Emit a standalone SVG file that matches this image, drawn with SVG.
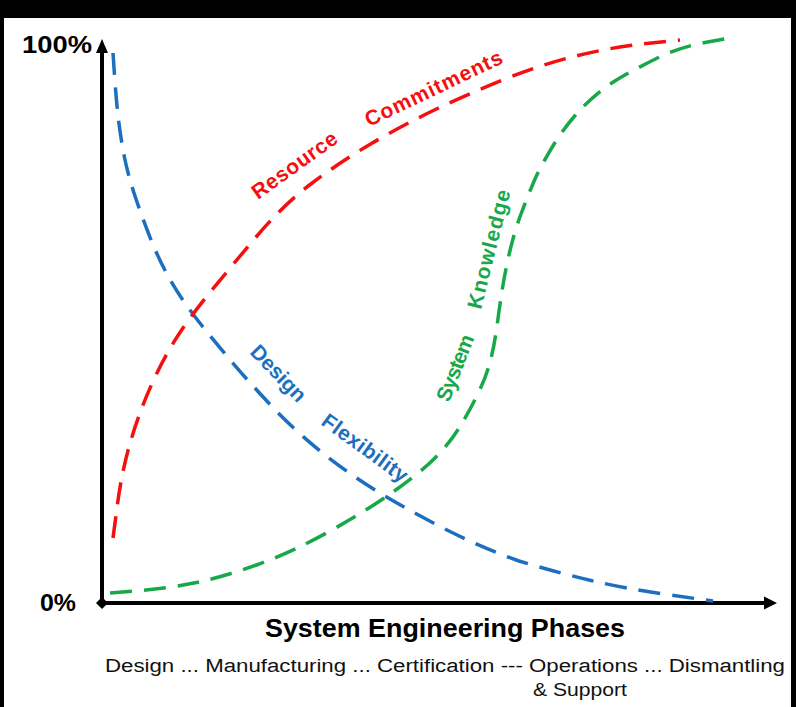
<svg xmlns="http://www.w3.org/2000/svg" width="796" height="707" viewBox="0 0 796 707">
<style>
.ax{stroke:#000;stroke-width:4;fill:none}
.crv{fill:none;stroke-width:3.5;stroke-dasharray:22 12}
.blue{stroke:#1C6FBF}
.red{stroke:#F50F0F}
.green{stroke:#18A84A}
.lbl{font-family:"Liberation Sans",Arial,sans-serif;font-weight:bold;font-size:21px}
.ttl{font-family:"Liberation Sans",Arial,sans-serif;font-weight:bold}
.sub{font-family:"Liberation Sans",Arial,sans-serif;font-size:18px;fill:#111}
</style>
<rect x="0" y="0" width="796" height="707" fill="#000"/>
<rect x="4" y="18" width="787" height="689" fill="#fff"/>
<g id="axes">
<line class="ax" x1="102" y1="50" x2="102" y2="603"/>
<polygon points="102,39 96,53 108,53" fill="#000"/>
<line class="ax" x1="102" y1="603" x2="766" y2="603"/>
<polygon points="777,603 764,596.5 764,609.5" fill="#000"/>
<polygon points="102,597 108,603 102,609 96,603" fill="#000"/>
</g>
<g id="connectors">
<path id="blue-curve" class="crv blue" d="M113,53 Q116,100 118.5,120 Q121,140 124.5,157.5 Q128,175 135.5,197.5 Q143,220 151.5,241 Q160,262 170,279.5 Q180,297 192.5,313.5 Q205,330 226,355 Q247,380 271.5,406 Q296,432 324.5,454.5 Q353,477 385,496 Q417,515 450,531.5 Q483,548 519,561 Q555,572 591,580.5 Q627,589 670,595 L713,601"/>
<path id="red-curve" class="crv red" d="M113,538 L117.5,504 Q122,470 131,440 Q140,410 152.5,382.5 Q165,355 179,334 Q193,313 211.5,290.5 Q230,268 256.5,236.5 Q283,205 311.5,183.5 Q340,162 371.5,143.5 Q403,125 436.5,109 Q470,93 506.5,78.5 Q543,64 578,55.5 Q613,47 646.5,43.5 L680,40"/>
<path id="green-curve" class="crv green" d="M110,593 L140,590.5 Q170,588 196.5,582.5 Q223,577 256.5,565 Q290,553 326.5,533 Q363,513 391.5,493 Q420,473 435,458 Q450,443 460,426.5 Q470,410 478.5,392.5 Q487,375 491,358.5 Q495,342 497.5,322.5 Q500,303 503,285 Q506,267 510.5,248.5 Q515,230 521,214 Q527,198 533.5,182.5 Q540,167 553.5,145 Q567,123 583.5,106.5 Q600,90 616.5,80 Q633,70 656.5,58.5 Q680,47 705,42.5 L730,38"/>
</g>
<g id="label-resource">
<text class="lbl" fill="#F50F0F" transform="translate(258,200) rotate(-35.7)" textLength="100" lengthAdjust="spacing">Resource</text>
<text class="lbl" fill="#F50F0F" transform="translate(369,127) rotate(-25.5)" textLength="150" lengthAdjust="spacing">Commitments</text>
</g>
<g id="label-design">
<text class="lbl" fill="#1C6FBF" transform="translate(249,353) rotate(46)" textLength="70" lengthAdjust="spacing">Design</text>
<text class="lbl" fill="#1C6FBF" transform="translate(320,424) rotate(36)" textLength="101" lengthAdjust="spacing">Flexibility</text>
</g>
<g id="label-system">
<text class="lbl" fill="#18A84A" transform="translate(449,403) rotate(-68.5)" textLength="70" lengthAdjust="spacing">System</text>
<text class="lbl" fill="#18A84A" transform="translate(481,310) rotate(-76)" textLength="122" lengthAdjust="spacing">Knowledge</text>
</g>
<g id="axis-labels">
<text class="ttl" x="22" y="53" font-size="23" textLength="70" lengthAdjust="spacingAndGlyphs">100%</text>
<text class="ttl" x="40" y="611" font-size="23" textLength="36" lengthAdjust="spacingAndGlyphs">0%</text>
<text class="ttl" x="265" y="637" font-size="25" textLength="360" lengthAdjust="spacingAndGlyphs">System Engineering Phases</text>
<text class="sub" x="105" y="672" textLength="680" lengthAdjust="spacingAndGlyphs">Design ... Manufacturing ... Certification --- Operations ... Dismantling</text>
<text class="sub" x="533" y="696" textLength="94" lengthAdjust="spacingAndGlyphs">&amp; Support</text>
</g>
</svg>
